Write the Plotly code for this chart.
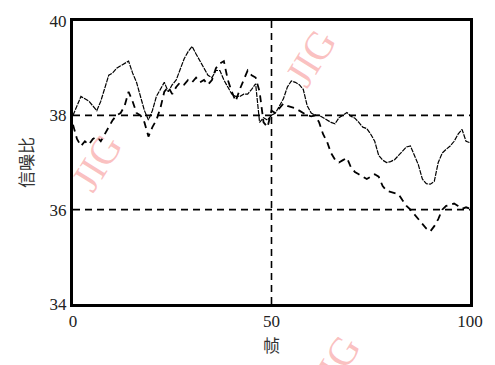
import plotly.graph_objects as go

frames = list(range(0, 101))
snr_solid = [38.0, 38.2, 38.4, 38.35, 38.3, 38.2, 38.1, 38.3, 38.6, 38.85,
             38.9, 39.0, 39.05, 39.1, 39.15, 38.9, 38.7, 38.4, 38.1, 37.9,
             38.1, 38.4, 38.55, 38.7, 38.5, 38.65, 38.75, 39.0, 39.2, 39.35,
             39.46, 39.3, 39.15, 39.0, 38.85, 38.8, 38.95, 38.95, 38.75, 38.6,
             38.45, 38.4, 38.4, 38.45, 38.45, 38.55, 38.67, 37.85, 37.95, 37.9,
             38.0, 38.05, 38.2, 38.35, 38.6, 38.73, 38.7, 38.65, 38.55, 38.2,
             38.05, 38.0, 38.0, 37.95, 37.9, 37.85, 37.82, 37.95, 38.0, 38.06,
             37.98, 37.94, 37.85, 37.75, 37.72, 37.6, 37.45, 37.15, 37.05, 37.0,
             37.02, 37.06, 37.15, 37.25, 37.33, 37.35, 37.15, 36.95, 36.65, 36.55,
             36.54, 36.6, 37.0, 37.2, 37.28, 37.35, 37.45, 37.6, 37.7, 37.45,
             37.42]
snr_dashed = [37.8, 37.5, 37.35, 37.45, 37.38, 37.5, 37.55, 37.45, 37.6, 37.75,
              37.9, 38.0, 38.05, 38.2, 38.5, 38.3, 38.05, 38.0, 37.85, 37.55,
              37.75, 37.9, 38.15, 38.5, 38.6, 38.45, 38.6, 38.7, 38.65, 38.75,
              38.7, 38.8, 38.7, 38.75, 38.65, 38.75, 39.0, 39.1, 39.15, 38.75,
              38.5, 38.3, 38.55, 38.75, 38.95, 38.85, 38.8, 38.5, 37.85, 37.75,
              38.1, 38.05, 38.15, 38.25, 38.2, 38.17, 38.15, 38.1, 38.05, 38.0,
              37.98, 38.0, 37.85, 37.6, 37.44, 37.2, 37.06, 37.0, 37.05, 37.1,
              36.9, 36.8, 36.75, 36.7, 36.65, 36.7, 36.75, 36.7, 36.5, 36.4,
              36.38, 36.35, 36.33, 36.2, 36.08, 36.0, 35.9, 35.78, 35.7, 35.6,
              35.54, 35.65, 35.8, 36.0, 36.08, 36.1, 36.13, 36.08, 36.02, 36.05,
              36.02]
ref_levels = [38, 36]
ref_frame = 50
x_ticks = [0, 50, 100]
y_ticks = [34, 36, 38, 40]

serif = "Liberation Serif, Times New Roman, serif"
cjk = "Noto Sans CJK SC"

fig = go.Figure()
fig.add_trace(go.Scatter(x=frames, y=snr_solid, mode="lines",
                         line=dict(color="black", width=1.2, dash="5px,1px"),
                         showlegend=False))
fig.add_trace(go.Scatter(x=frames, y=snr_dashed, mode="lines",
                         line=dict(color="black", width=1.8, dash="7px,5px"),
                         showlegend=False))

for lv in ref_levels:
    fig.add_shape(type="line", x0=0, x1=100, y0=lv, y1=lv, xref="x", yref="y",
                  line=dict(color="black", width=1.6, dash="7px,5px"))
fig.add_shape(type="line", x0=ref_frame, x1=ref_frame, y0=34, y1=40, xref="x", yref="y",
              line=dict(color="black", width=1.6, dash="7px,5px"))

wm = dict(showarrow=False, text="JIG", textangle=-58, xanchor="center", yanchor="middle",
          font=dict(family=serif, size=40, color="rgba(248,165,165,0.7)"))
fig.add_annotation(xref="paper", yref="paper", x=0.6, y=0.87, **wm)
fig.add_annotation(xref="paper", yref="paper", x=0.06, y=0.5, **wm)
fig.add_annotation(xref="paper", yref="paper", x=0.66, y=-0.21, **wm)

fig.update_layout(
    width=495, height=365,
    margin=dict(l=73, r=21, t=19, b=57),
    paper_bgcolor="white", plot_bgcolor="white",
    xaxis=dict(range=[0, 100], tickvals=x_ticks, ticktext=[str(v) for v in x_ticks],
               showgrid=False, zeroline=False, showline=True, linecolor="black",
               linewidth=3, mirror=True, ticks="inside", ticklen=4, tickcolor="black",
               tickfont=dict(family=serif, size=17, color="#222"),
               title=dict(text="帧", font=dict(family=cjk, size=17, color="#333"), standoff=10)),
    yaxis=dict(range=[34, 40], tickvals=y_ticks, ticktext=[str(v) for v in y_ticks],
               showgrid=False, zeroline=False, showline=True, linecolor="black",
               linewidth=3, mirror=True, ticks="inside", ticklen=4, tickcolor="black",
               tickfont=dict(family=serif, size=17, color="#222"),
               title=dict(text="信噪比", font=dict(family=cjk, size=17, color="#333"), standoff=12)),
)

fig.write_html("out.html")
